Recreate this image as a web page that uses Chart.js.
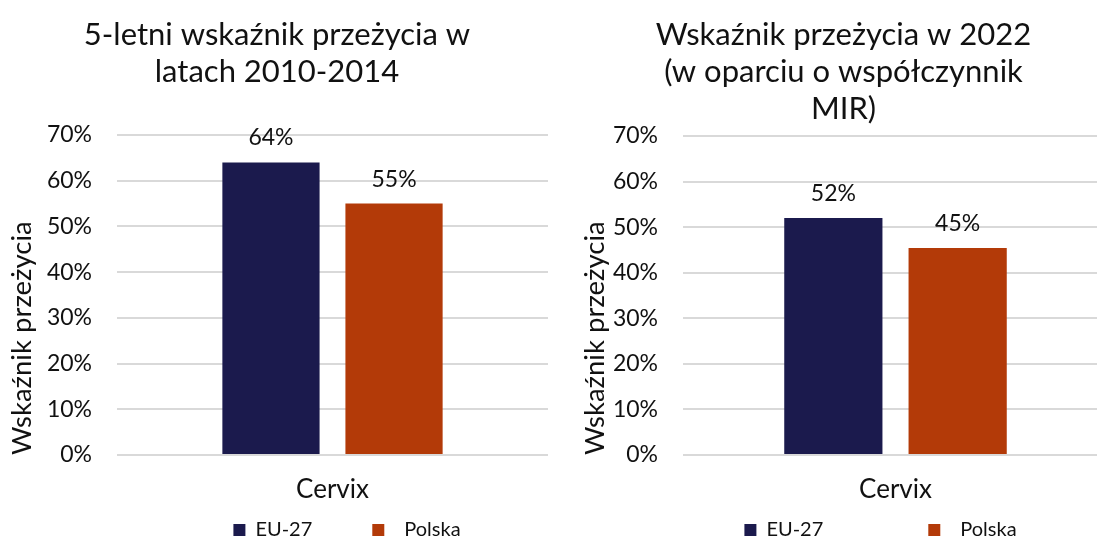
<!DOCTYPE html>
<html>
<head>
<meta charset="utf-8">
<script src="https://cdn.jsdelivr.net/npm/chart.js@4/dist/chart.umd.min.js"></script>
<style>
  html, body { margin: 0; padding: 0; background: #fff; overflow: hidden; }
  #wrap { position: relative; width: 1097px; height: 540px; overflow: hidden; }
  .box { position: absolute; top: 0; height: 550px; }
  #leftBox { left: 0; width: 548px; }
  #rightBox { left: 548px; width: 560px; }
</style>
</head>
<body>
<div id="wrap">
  <div class="box" id="leftBox"><canvas id="leftChart"></canvas></div>
  <div class="box" id="rightBox"><canvas id="rightChart"></canvas></div>
</div>
<script>
// dane
const categories = ['Cervix'];
const seriesNames = ['EU-27', 'Polska'];
const eu27_2010_2014 = [64];
const polska_2010_2014 = [55];
const eu27_2022 = [52];
const polska_2022 = [45.4];
const yMax = 70;
const yStep = 10;

const titleLeft = ['5-letni wskaźnik przeżycia w', 'latach 2010-2014'];
const titleRight = ['Wskaźnik przeżycia w 2022', '(w oparciu o współczynnik', 'MIR)'];
const yAxisTitle = 'Wskaźnik przeżycia';

const COLORS = ['#1b1a4d', '#b33a08'];
const FONT = 'Lato, "Open Sans", sans-serif';
const TEXT = '#111';

// etykiety nad słupkami
const barLabelsPlugin = {
  id: 'barLabels',
  afterDatasetsDraw(chart) {
    const ctx = chart.ctx;
    ctx.save();
    ctx.font = '23px ' + FONT;
    ctx.fillStyle = TEXT;
    ctx.textAlign = 'center';
    ctx.textBaseline = 'alphabetic';
    chart.data.datasets.forEach((ds, i) => {
      chart.getDatasetMeta(i).data.forEach((bar, j) => {
        ctx.fillText(Math.round(ds.data[j]) + '%', bar.x, bar.y - 17);
      });
    });
    ctx.restore();
  }
};

// przesunięcie legendy w prawo
const legendShiftPlugin = {
  id: 'legendShift',
  afterLayout(chart, args, opts) {
    if (chart.legend && opts.shift) chart.legend.left += opts.shift;
  }
};

function makeChart(id, title, euData, plData, opts) {
  const ctx = document.getElementById(id).getContext('2d');
  return new Chart(ctx, {
    type: 'bar',
    data: {
      labels: categories,
      datasets: [
        { label: seriesNames[0], data: euData, backgroundColor: COLORS[0] },
        { label: seriesNames[1], data: plData, backgroundColor: COLORS[1] }
      ]
    },
    options: {
      responsive: true,
      maintainAspectRatio: false,
      animation: false,
      categoryPercentage: opts.catPct,
      barPercentage: 0.79,
      layout: { padding: { left: opts.padLeft, right: 0, top: 0, bottom: 0 } },
      scales: {
        x: {
          afterFit(scale) { scale.height = 55; },
          grid: { display: false, drawTicks: false },
          border: { display: false },
          ticks: { color: TEXT, font: { family: FONT, size: 26 }, padding: 19 }
        },
        y: {
          min: 0,
          max: yMax,
          afterFit(scale) { scale.width = opts.axisWidth; },
          grid: { color: '#d9d9d9', lineWidth: 2, drawTicks: false },
          border: { display: false },
          ticks: {
            stepSize: yStep,
            padding: 25,
            color: TEXT,
            font: { family: FONT, size: 23 },
            callback: v => v + '%'
          },
          title: {
            display: true,
            text: yAxisTitle,
            align: 'start',
            color: TEXT,
            font: { family: FONT, size: 27.5 },
            padding: 0
          }
        }
      },
      plugins: {
        title: {
          display: true,
          text: title,
          color: TEXT,
          font: { family: FONT, size: 31, weight: 'normal', lineHeight: 1.2 },
          padding: { top: 16, bottom: opts.titleBottom }
        },
        legend: {
          position: 'bottom',
          labels: {
            boxWidth: 12,
            boxHeight: 12,
            color: TEXT,
            font: { family: FONT, size: 20 },
            padding: 10,
            generateLabels(chart) {
              const items = Chart.defaults.plugins.legend.labels.generateLabels(chart);
              items[0].text = items[0].text + opts.euGap;
              items[1].text = '\u2002' + items[1].text;
              return items;
            }
          }
        },
        legendShift: { shift: opts.legendShift },
        tooltip: { enabled: false }
      }
    },
    plugins: [barLabelsPlugin, legendShiftPlugin]
  });
}

makeChart('leftChart', titleLeft, eu27_2010_2014, polska_2010_2014, {
  padLeft: 6, axisWidth: 111, catPct: 0.571, titleBottom: 44.6,
  euGap: '\u2003\u2003\u2002\u2009\u2009\u2009\u2009', legendShift: 140
});
makeChart('rightChart', titleRight, eu27_2022, polska_2022, {
  padLeft: 31, axisWidth: 104, catPct: 0.585, titleBottom: 8.4,
  euGap: '\u2003\u2003\u2003\u2003\u2003\u2003\u2009\u2009', legendShift: 74
});
</script>
</body>
</html>
